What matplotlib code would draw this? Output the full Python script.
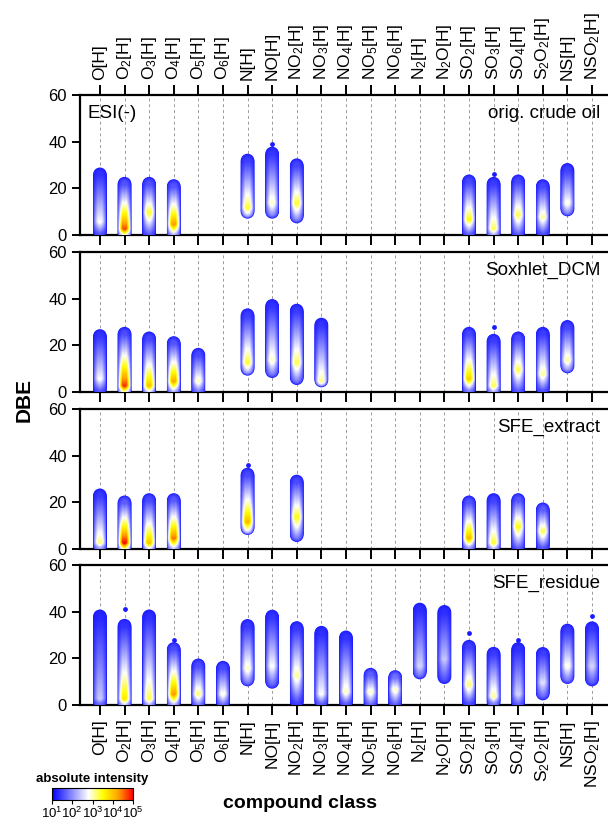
import numpy as np
import matplotlib
matplotlib.use("Agg")
import matplotlib.pyplot as plt
from matplotlib.colors import LinearSegmentedColormap, Normalize
from matplotlib.cm import ScalarMappable

plt.rcParams['font.family'] = ['Liberation Sans', 'DejaVu Sans']
plt.rcParams['mathtext.fontset'] = 'custom'
plt.rcParams['mathtext.rm'] = 'Liberation Sans'
plt.rcParams['mathtext.default'] = 'regular'

# compound classes (x axis)
classes = ['O[H]', 'O$_2$[H]', 'O$_3$[H]', 'O$_4$[H]', 'O$_5$[H]', 'O$_6$[H]',
           'N[H]', 'NO[H]', 'NO$_2$[H]', 'NO$_3$[H]', 'NO$_4$[H]', 'NO$_5$[H]',
           'NO$_6$[H]', 'N$_2$[H]', 'N$_2$O[H]', 'SO$_2$[H]', 'SO$_3$[H]',
           'SO$_4$[H]', 'S$_2$O$_2$[H]', 'NS[H]', 'NSO$_2$[H]']
samples = ['orig. crude oil', 'Soxhlet_DCM', 'SFE_extract', 'SFE_residue']
N = np.nan

# DBE range (visible bottom/top), DBE of max intensity, log10 of max intensity per class
crude_lo   = [1, 0, 0, 0, N, N, 7, 7, 5, N, N, N, N, N, N, 1, 0, 0, 1, 8, N]
crude_hi   = [29, 25, 25, 24, N, N, 35, 38, 33, N, N, N, N, N, N, 26, 25, 26, 24, 31, N]
crude_pk   = [6, 3, 10, 5, N, N, 12, 14, 14, N, N, N, N, N, N, 7, 3, 9, 8, 14, N]
crude_int  = [2.8, 4.7, 3.4, 4.3, N, N, 3.4, 3.0, 3.4, N, N, N, N, N, N, 3.5, 3.3, 3.3, 3.1, 2.9, N]

soxh_lo    = [1, 0, 0, 0, 0, N, 7, 6, 3, 2, N, N, N, N, N, 1, 0, 0, 1, 8, N]
soxh_hi    = [27, 28, 26, 24, 19, N, 36, 40, 38, 32, N, N, N, N, N, 28, 25, 26, 28, 31, N]
soxh_pk    = [6, 3, 3, 5, 5, N, 13, 14, 13, 4, N, N, N, N, N, 6, 3, 10, 8, 14, N]
soxh_int   = [2.8, 4.8, 4.0, 4.2, 3.0, N, 3.4, 3.0, 3.3, 3.2, N, N, N, N, N, 3.9, 3.3, 3.3, 3.1, 3.1, N]

ext_lo     = [1, 0, 0, 0, N, N, 6, N, 3, N, N, N, N, N, N, 1, 0, 0, 1, N, N]
ext_hi     = [26, 23, 24, 24, N, N, 35, N, 32, N, N, N, N, N, N, 23, 24, 24, 20, N, N]
ext_pk     = [3, 3, 3, 5, N, N, 12, N, 14, N, N, N, N, N, N, 5, 3, 10, 8, N, N]
ext_int    = [3.2, 5.0, 4.0, 4.5, N, N, 4.1, N, 3.5, N, N, N, N, N, N, 4.1, 3.4, 3.5, 3.3, N, N]

res_lo     = [1, 0, 0, 0, 0, 0, 8, 7, 1, 1, 1, 0, 0, 11, 9, 1, 1, 0, 2, 9, 8]
res_hi     = [41, 37, 41, 27, 20, 19, 37, 41, 36, 34, 32, 16, 15, 44, 43, 28, 25, 27, 25, 35, 36]
res_pk     = [3, 3, 3, 5, 5, 5, 16, 17, 13, 5, 6, 6, 7, 17, 20, 9, 4, 5, 10, 17, 17]
res_int    = [2.4, 3.7, 3.3, 4.3, 3.2, 2.9, 3.0, 2.8, 3.1, 2.8, 3.0, 3.0, 3.0, 2.5, 2.4, 3.2, 3.1, 2.5, 2.6, 2.9, 2.5]

# isolated weak signals above the main columns: (panel, class index, DBE)
lone_panel = [0, 0, 1, 2, 3, 3, 3, 3, 3]
lone_class = [7, 16, 16, 6, 1, 3, 15, 17, 20]
lone_dbe   = [39, 26, 28, 36, 41, 28, 31, 28, 38]

panels = [(crude_lo, crude_hi, crude_pk, crude_int),
          (soxh_lo, soxh_hi, soxh_pk, soxh_int),
          (ext_lo, ext_hi, ext_pk, ext_int),
          (res_lo, res_hi, res_pk, res_int)]

cmap = LinearSegmentedColormap.from_list('bwyr', [(0.0, '#0000ff'), (0.45, '#ffffff'),
                                                  (0.63, '#ffff00'), (0.82, '#ffa000'),
                                                  (1.0, '#ff0000')])
norm = Normalize(1, 5)
base = 1.2

fig = plt.figure(figsize=(6.08, 8.27), dpi=100)
W, H = 608., 827.
rows = [(95, 235), (252, 392), (409, 549), (565, 705)]
x = np.arange(len(classes))

layers = 8
d_out, d_in = 9.8, 3.0          # disc diameters in points
rd = (d_out / 2) / 0.72 / (140 / 60)   # disc radius in DBE units

for p, ((top, bot), (lo, hi, pk, itn)) in enumerate(zip(rows, panels)):
    ax = fig.add_axes([80 / W, 1 - bot / H, 1 - 80 / W, (bot - top) / H])
    ax.set_xlim(-0.81, 20.65)
    ax.set_ylim(0, 60)
    for xi in x:
        ax.axvline(xi, color='#9a9a9a', lw=0.7, ls=(0, (3, 3)), zorder=0)

    # each column drawn as stacked discs: outer ring low intensity, centre = level at that DBE
    for k in range(layers):
        xs, ys, cs = [], [], []
        for i in x:
            if np.isnan(lo[i]):
                continue
            start = lo[i] if lo[i] <= 1 else lo[i] + rd
            d = np.arange(start, hi[i] - rd + 0.01, 0.5)
            t = np.where(d >= pk[i],
                         (hi[i] - d) / max(hi[i] - pk[i], 1),
                         (d - lo[i] + 2.0) / max(pk[i] - lo[i] + 2.0, 1))
            t = np.clip(t, 0, 1) ** 1.1
            lev = base + (itn[i] - base) * t
            f = (k / (layers - 1)) ** 0.6
            xs.extend([i] * len(d))
            ys.extend(d)
            cs.extend(base + (lev - base) * f)
        diam = d_out - (d_out - d_in) * k / (layers - 1)
        ax.scatter(xs, ys, c=cs, cmap=cmap, norm=norm, s=diam ** 2,
                   linewidths=0, zorder=2 + k)

    sel = [j for j in range(len(lone_panel)) if lone_panel[j] == p]
    ax.scatter([lone_class[j] for j in sel], [lone_dbe[j] for j in sel],
               color='#1a1aff', s=12, linewidths=0, zorder=2)

    for s in ['left', 'bottom', 'top']:
        ax.spines[s].set_linewidth(1.6)
    ax.spines['right'].set_visible(False)
    ax.set_yticks([0, 20, 40, 60])
    ax.set_xticks(x)
    ax.tick_params(axis='y', labelsize=12, length=6, width=1.4, direction='out')
    ax.tick_params(axis='x', length=7, width=1.4, direction='out',
                   top=(p == 0), labeltop=(p == 0), bottom=True,
                   labelbottom=(p == 3))
    if p == 0 or p == 3:
        ax.set_xticklabels(classes, rotation=90, fontsize=12.5)
    else:
        ax.set_xticklabels([])
    ax.text(0.985, 0.93, samples[p], transform=ax.transAxes, ha='right', va='top',
            fontsize=13.5)
    if p == 0:
        ax.text(0.015, 0.93, 'ESI(-)', transform=ax.transAxes, ha='left', va='top',
                fontsize=13.5)

fig.text(24 / W, 1 - 400 / H, 'DBE', rotation=90, ha='center', va='center',
         fontsize=15, fontweight='bold')
fig.text(300 / W, 1 - 803 / H, 'compound class', ha='center', va='center',
         fontsize=14, fontweight='bold')

cax = fig.add_axes([52 / W, 1 - 800 / H, 81 / W, 12 / H])
cb = fig.colorbar(ScalarMappable(norm=norm, cmap=cmap), cax=cax,
                  orientation='horizontal', ticks=[1, 2, 3, 4, 5])
cb.ax.set_xticklabels(['10$^1$', '10$^2$', '10$^3$', '10$^4$', '10$^5$'])
cb.ax.tick_params(labelsize=9.5, length=3, width=0.8, pad=1)
cb.outline.set_linewidth(0.8)
fig.text(92 / W, 1 - 779 / H, 'absolute intensity', ha='center', va='center',
         fontsize=9.5, fontweight='bold')

fig.savefig('out.png', dpi=100)
